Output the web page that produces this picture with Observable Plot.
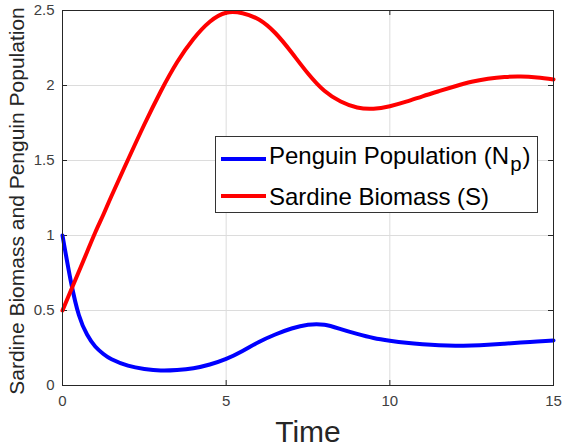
<!DOCTYPE html>
<html>
<head>
<meta charset="utf-8">
<script src="https://cdn.jsdelivr.net/npm/d3@7"></script>
<script src="https://cdn.jsdelivr.net/npm/@observablehq/plot@0.6"></script>
<style>
  body { margin: 0; background: #fff; }
  #wrap { position: relative; width: 565px; height: 447px; font-family: "Liberation Sans", Arial, sans-serif; }
  #legend { position: absolute; left: 215px; top: 136px; width: 321px; height: 75px; border: 1px solid #333; background: #fff; box-sizing: content-box; }
  .sw { position: absolute; left: 5px; width: 45px; height: 4px; }
  .lt { position: absolute; left: 53px; font-size: 24px; line-height: 24px; color: #000; white-space: nowrap; }
  .sub { font-size: 0.85em; position: relative; top: 0.35em; margin-left: 1px; margin-right: 1px; }
</style>
</head>
<body>
<div id="wrap"></div>
<script>
const time = [0,0.25,0.5,0.75,1,1.25,1.5,2,2.5,3,3.5,4,4.5,5,5.5,6,6.5,7,7.5,8,8.5,9,9.5,10,10.5,11,11.5,12,12.5,13,13.5,14,14.5,15];
const penguin = [1.0,0.70,0.47,0.34,0.26,0.21,0.175,0.132,0.11,0.10,0.103,0.115,0.14,0.177,0.23,0.29,0.34,0.38,0.405,0.405,0.376,0.344,0.317,0.299,0.285,0.275,0.268,0.265,0.267,0.272,0.279,0.286,0.293,0.30];
const sardine = [0.5,0.63,0.76,0.89,1.02,1.14,1.265,1.505,1.74,1.96,2.155,2.31,2.425,2.485,2.482,2.44,2.35,2.22,2.08,1.965,1.893,1.853,1.845,1.862,1.892,1.928,1.962,1.995,2.025,2.045,2.057,2.06,2.053,2.04];
const seriesNames = ["Penguin Population", "Sardine Biomass (S)"];
const seriesColors = ["#0000ff", "#ff0000"];
const xTicks = [0,5,10,15];
const yTicks = [0,0.5,1,1.5,2,2.5];
const xLabel = "Time";
const yLabel = "Sardine Biomass and Penguin Population";

const penguinData = time.map((t, i) => ({t, v: penguin[i]}));
const sardineData = time.map((t, i) => ({t, v: sardine[i]}));

const axisColor = "#262626";
const plot = Plot.plot({
  width: 565,
  height: 447,
  marginLeft: 62,
  marginRight: 12,
  marginTop: 10,
  marginBottom: 62,
  style: {fontFamily: "'Liberation Sans', Arial, sans-serif", background: "#fff", overflow: "visible"},
  x: {domain: [0, 15]},
  y: {domain: [0, 2.5]},
  marks: [
    Plot.gridX([5, 10], {stroke: "#dcdcdc", strokeOpacity: 1}),
    Plot.gridY([0.5, 1, 1.5, 2], {stroke: "#dcdcdc", strokeOpacity: 1}),
    Plot.axisX(xTicks, {tickSize: 0, tickPadding: 10, fontSize: 15, color: "#404040", label: null}),
    Plot.axisY(yTicks, {tickSize: 0, tickPadding: 8, fontSize: 15, color: "#404040", label: null, tickFormat: d => String(d)}),
    Plot.tickX(xTicks, {x: d => d, insetTop: 370, stroke: axisColor}),
    Plot.tickX(xTicks, {x: d => d, insetBottom: 370, stroke: axisColor}),
    Plot.tickY(yTicks, {y: d => d, insetRight: 486, stroke: axisColor}),
    Plot.tickY(yTicks, {y: d => d, insetLeft: 486, stroke: axisColor}),
    Plot.line(penguinData, {x: "t", y: "v", stroke: seriesColors[0], strokeWidth: 4, curve: "natural"}),
    Plot.line(sardineData, {x: "t", y: "v", stroke: seriesColors[1], strokeWidth: 4, curve: "natural"}),
    Plot.frame({stroke: axisColor}),
    Plot.text([xLabel], {frameAnchor: "bottom", text: d => d, lineAnchor: "bottom", textAnchor: "middle", dy: 56, fontSize: 30, fill: "#262626"}),
    Plot.text([yLabel], {frameAnchor: "left", text: d => d, rotate: -90, lineAnchor: "bottom", textAnchor: "middle", dx: -39, dy: 3, fontSize: 21, fill: "#262626"})
  ]
});

const wrap = document.getElementById("wrap");
wrap.appendChild(plot);

const legend = document.createElement("div");
legend.id = "legend";
const rows = [
  {sw: 158 - 136 - 2, base: 163 - 136},
  {sw: 195 - 136 - 2, base: 204 - 136}
];
seriesNames.forEach((name, i) => {
  const sw = document.createElement("div");
  sw.className = "sw";
  sw.style.top = rows[i].sw + "px";
  sw.style.background = seriesColors[i];
  legend.appendChild(sw);
  const lt = document.createElement("div");
  lt.className = "lt";
  lt.style.top = (rows[i].base - 20.5) + "px";
  if (i === 0) {
    lt.innerHTML = name + " (N<span class='sub'>p</span>)";
  } else {
    lt.textContent = name;
  }
  legend.appendChild(lt);
});
wrap.appendChild(legend);
</script>
</body>
</html>
